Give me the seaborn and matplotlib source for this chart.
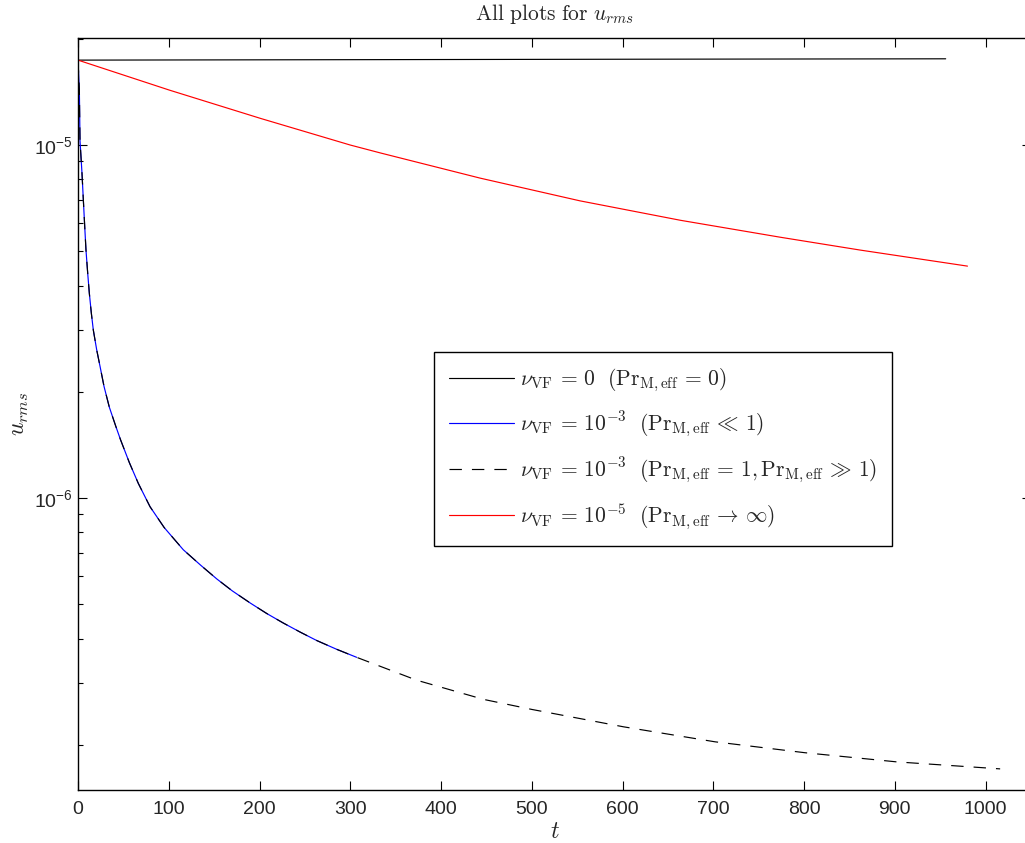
import numpy as np
import matplotlib
matplotlib.use("Agg")
import matplotlib.pyplot as plt
import seaborn as sns
from matplotlib.ticker import LogLocator, LogFormatterSciNotation, NullLocator, NullFormatter

# ---- data ----
t_nu0 = [0, 300, 600, 956]
u_nu0 = [1.74e-5, 1.745e-5, 1.75e-5, 1.755e-5]

t_nu3_low = [0, 1.5, 2.2, 4.4, 5.9, 7.4, 8.8, 10.7, 12.5, 14.7, 16.9, 20.6, 24.3, 28.7,
             34.5, 41.9, 47.0, 56.6, 66.5, 79.4, 95, 116, 135, 153, 170, 190, 208, 226,
             245, 263, 285, 307]
u_nu3_low = [1.74e-5, 1.43e-5, 1.03e-5, 8.32e-6, 6.98e-6, 5.88e-6, 5.04e-6, 4.33e-6,
             3.80e-6, 3.34e-6, 2.99e-6, 2.63e-6, 2.36e-6, 2.07e-6, 1.81e-6, 1.59e-6,
             1.46e-6, 1.26e-6, 1.10e-6, 9.45e-7, 8.25e-7, 7.14e-7, 6.46e-7, 5.90e-7,
             5.46e-7, 5.04e-7, 4.71e-7, 4.43e-7, 4.17e-7, 3.95e-7, 3.73e-7, 3.54e-7]

t_nu3_high = [0, 1.5, 2.2, 4.4, 5.9, 7.4, 8.8, 10.7, 12.5, 14.7, 16.9, 20.6, 24.3, 28.7,
              34.5, 41.9, 47.0, 56.6, 66.5, 79.4, 95, 116, 135, 153, 170, 190, 208, 226,
              245, 263, 285, 307, 373, 447, 500, 601, 702, 801, 902, 1016]
u_nu3_high = [1.74e-5, 1.43e-5, 1.03e-5, 8.32e-6, 6.98e-6, 5.88e-6, 5.04e-6, 4.33e-6,
              3.80e-6, 3.34e-6, 2.99e-6, 2.63e-6, 2.36e-6, 2.07e-6, 1.81e-6, 1.59e-6,
              1.46e-6, 1.26e-6, 1.10e-6, 9.45e-7, 8.25e-7, 7.14e-7, 6.46e-7, 5.90e-7,
              5.46e-7, 5.04e-7, 4.71e-7, 4.43e-7, 4.17e-7, 3.95e-7, 3.73e-7, 3.54e-7,
              3.05e-7, 2.69e-7, 2.52e-7, 2.25e-7, 2.04e-7, 1.90e-7, 1.79e-7, 1.71e-7]

t_nu5 = [0, 101, 201, 300, 333, 443, 553, 664, 774, 862, 980]
u_nu5 = [1.74e-5, 1.43e-5, 1.19e-5, 1.0e-5, 9.5e-6, 8.06e-6, 6.95e-6, 6.12e-6, 5.48e-6,
         5.04e-6, 4.54e-6]

labels = [
    r'$\nu_{\mathrm{VF}}\,=\,0\ \ (\mathrm{Pr}_{\mathrm{M,eff}}\,=\,0)$',
    r'$\nu_{\mathrm{VF}}\,=\,10^{-3}\ \ (\mathrm{Pr}_{\mathrm{M,eff}}\,\ll\,1)$',
    r'$\nu_{\mathrm{VF}}\,=\,10^{-3}\ \ (\mathrm{Pr}_{\mathrm{M,eff}}\,=\,1,\mathrm{Pr}_{\mathrm{M,eff}}\,\gg\,1)$',
    r'$\nu_{\mathrm{VF}}\,=\,10^{-5}\ \ (\mathrm{Pr}_{\mathrm{M,eff}}\,\to\,\infty)$',
]
x_ticks = [0, 100, 200, 300, 400, 500, 600, 700, 800, 900, 1000]
title = r'$\mathrm{All\ plots\ for}\ u_{rms}$'
xlabel = r'$t$'
ylabel = r'$u_{rms}$'

# ---- style ----
sns.set_style("ticks")
plt.rcParams['font.family'] = ['Liberation Sans', 'DejaVu Sans']
plt.rcParams['mathtext.fontset'] = 'cm'
plt.rcParams['xtick.direction'] = 'in'
plt.rcParams['ytick.direction'] = 'in'
plt.rcParams['axes.linewidth'] = 1.0
plt.rcParams['axes.edgecolor'] = 'black'

fig = plt.figure(figsize=(10.25, 8.43), dpi=100)
ax = fig.add_axes([78 / 1025, 1 - 790 / 843, (1031 - 78) / 1025, 752 / 843])

lw = 0.85
sns.lineplot(x=t_nu0, y=u_nu0, ax=ax, color='black', linewidth=lw, estimator=None)
sns.lineplot(x=t_nu3_low, y=u_nu3_low, ax=ax, color='blue', linewidth=lw, estimator=None)
sns.lineplot(x=t_nu3_high, y=u_nu3_high, ax=ax, color='black', linewidth=lw,
             linestyle=(0, (10.5, 8.5)), estimator=None)
sns.lineplot(x=t_nu5, y=u_nu5, ax=ax, color='red', linewidth=lw, estimator=None)

ax.set_yscale('log')
ax.set_xlim(0, 1050)
ax.set_ylim(1.49e-7, 2.01e-5)
ax.set_xticks(x_ticks)
ax.set_xticklabels([str(v) for v in x_ticks])
ax.xaxis.set_minor_locator(NullLocator())
ax.yaxis.set_major_locator(LogLocator(base=10))
ax.yaxis.set_major_formatter(LogFormatterSciNotation())
ax.yaxis.set_minor_locator(LogLocator(base=10, subs=np.arange(2, 10)))
ax.yaxis.set_minor_formatter(NullFormatter())

ax.tick_params(which='major', length=6.5, width=0.8, labelsize=14, top=True, right=True,
               color='black')
ax.tick_params(which='minor', length=3.3, width=0.8, top=True, right=True, color='black')
ax.tick_params(axis='x', pad=8)
ax.tick_params(axis='y', pad=4)
for s in ax.spines.values():
    s.set_visible(True)
    s.set_color('black')

ax.set_title(title, fontsize=15.5, pad=13)
ax.set_xlabel(xlabel, fontsize=17, labelpad=2)
ax.set_ylabel(ylabel, fontsize=17, labelpad=2)

lines = ax.get_lines()
leg = ax.legend(lines[:4], labels, loc='upper left', bbox_to_anchor=(356 / 953, 0.5824),
                borderaxespad=0, fontsize=15.5, handlelength=3.0, handletextpad=0.3,
                labelspacing=0.72, frameon=True, fancybox=False, framealpha=1,
                edgecolor='black', borderpad=0.7)
leg.get_frame().set_linewidth(1.0)

fig.savefig('out.png', dpi=100)
